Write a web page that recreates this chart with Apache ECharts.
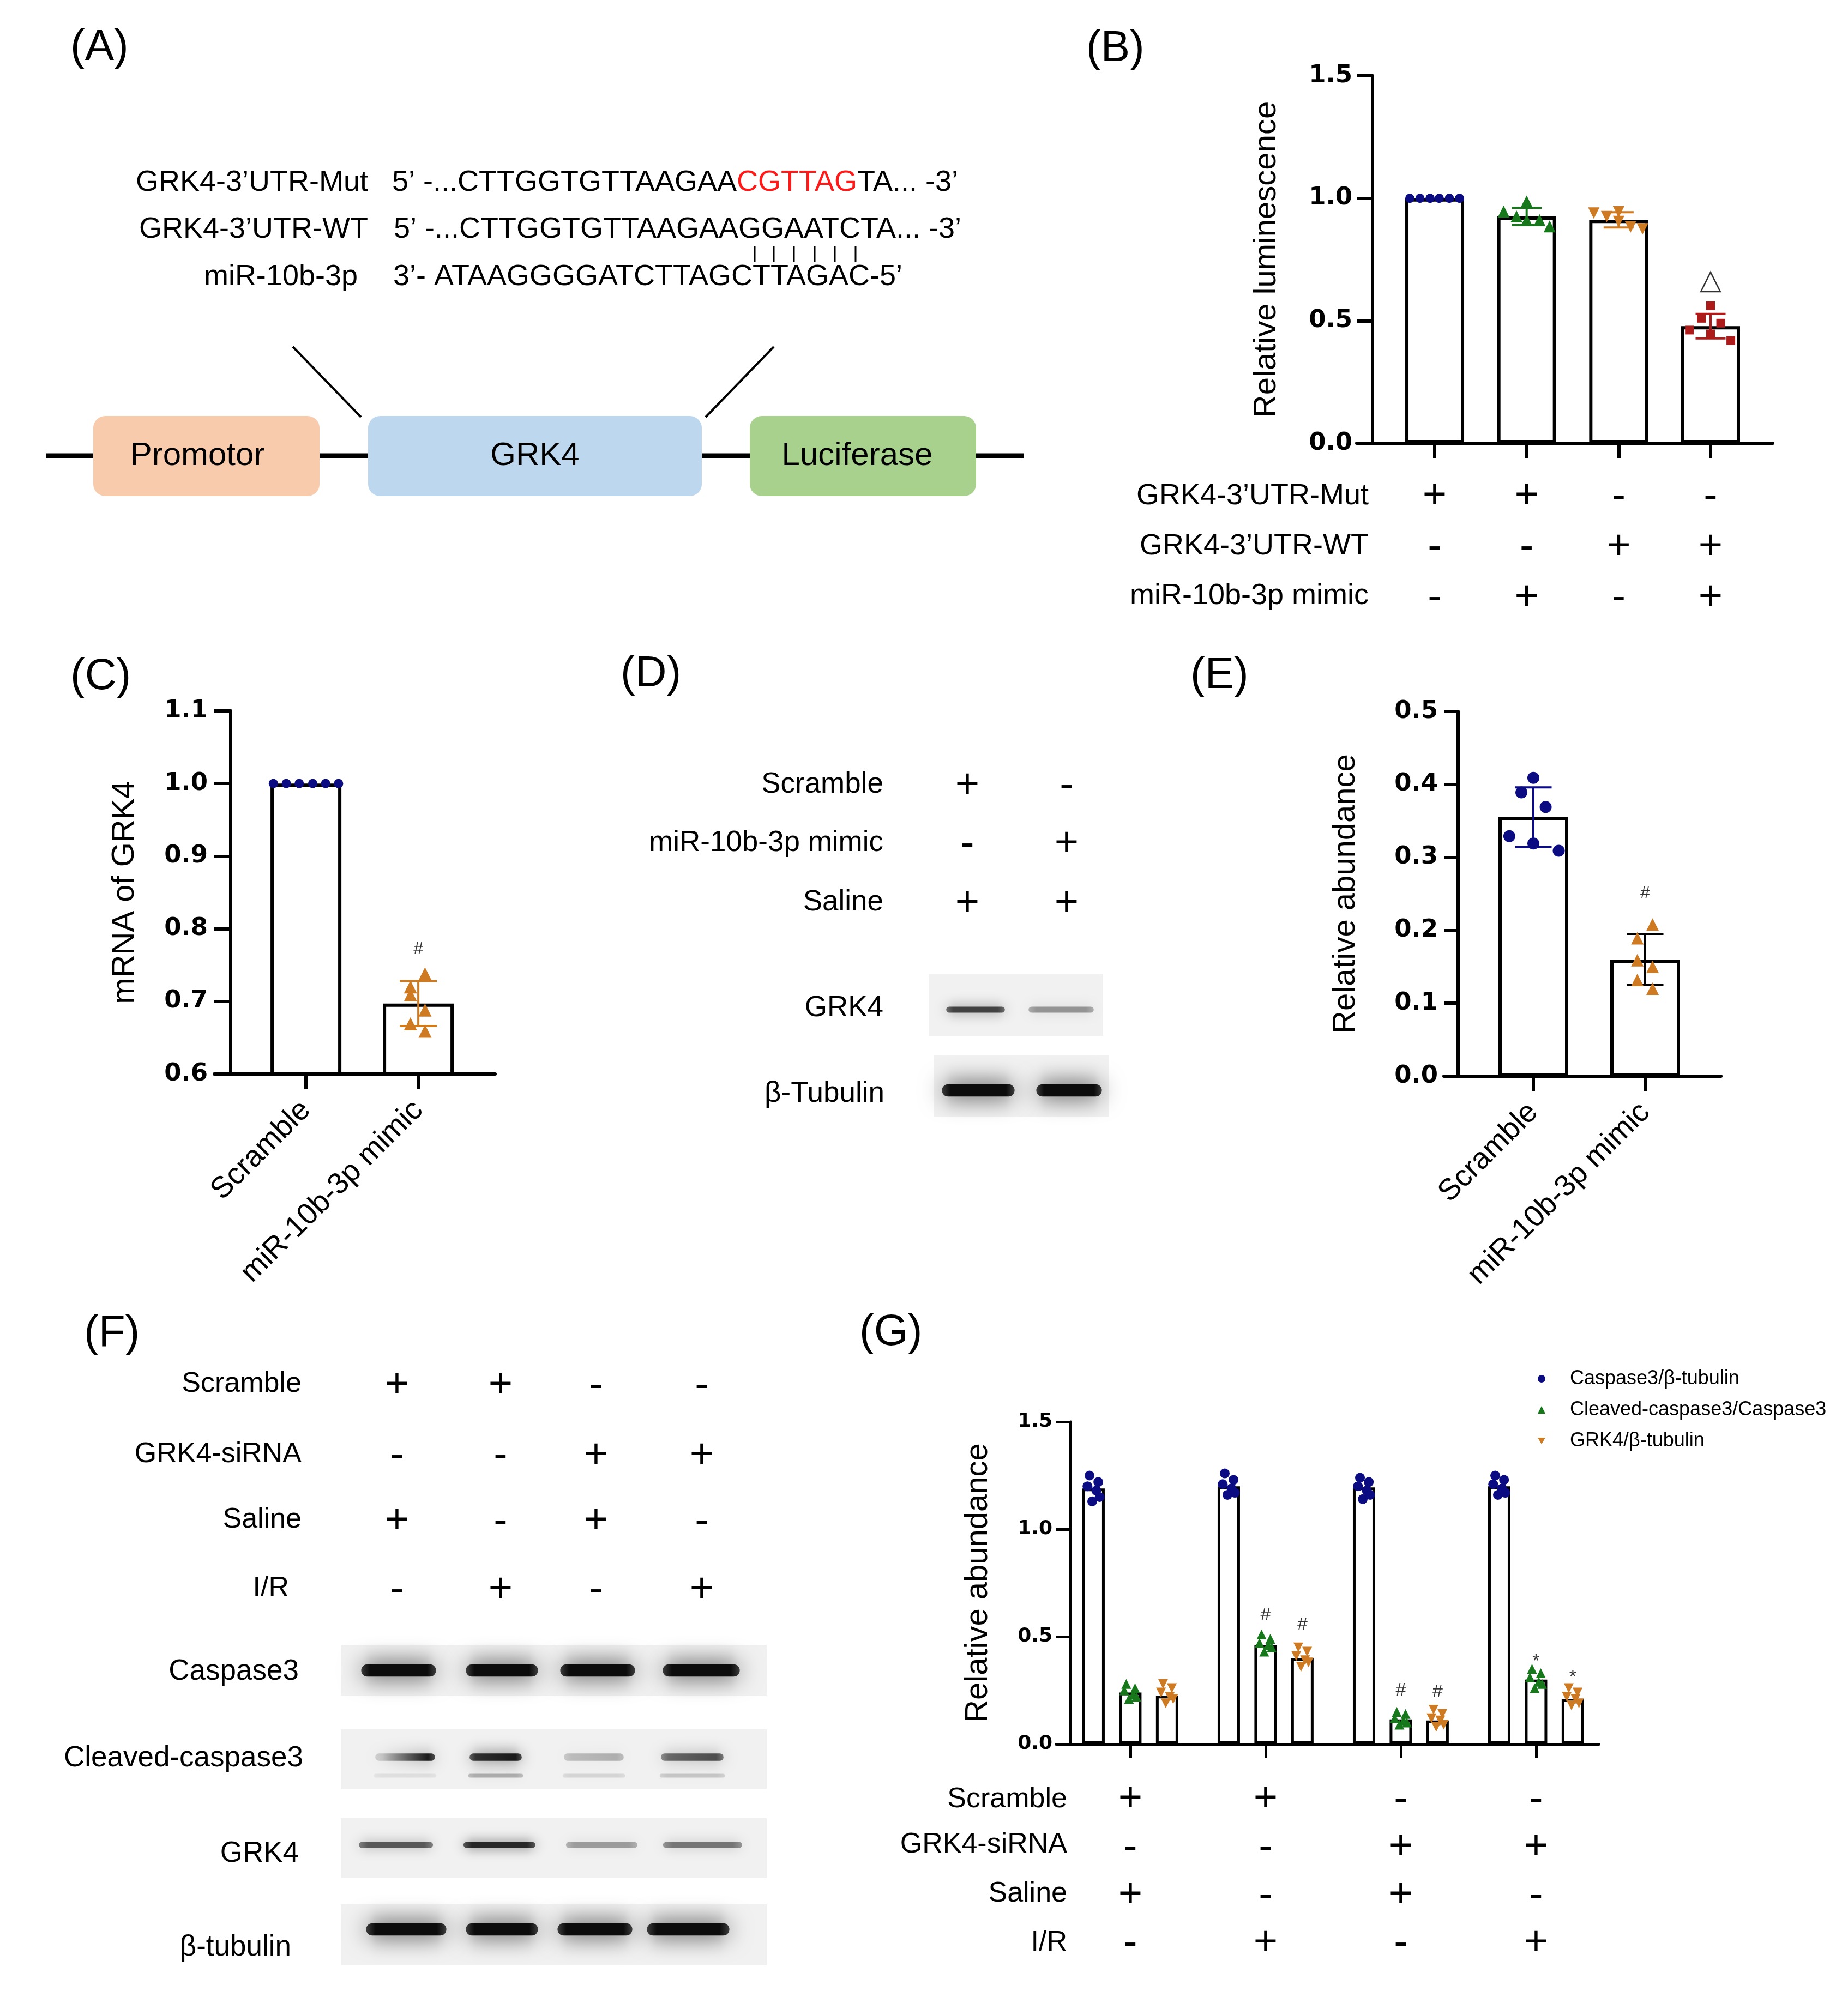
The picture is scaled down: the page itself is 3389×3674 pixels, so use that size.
<!DOCTYPE html>
<html><head><meta charset="utf-8">
<script src="https://cdn.jsdelivr.net/npm/echarts@6/dist/echarts.min.js"></script>
<style>html,body{margin:0;padding:0;background:#fff}#c{width:3389px;height:3674px}</style>
</head><body><div id="c"></div>
<script>
// ================= DATA =================
// Panel A
const seqRowLabels = ['GRK4-3\u2019UTR-Mut', 'GRK4-3\u2019UTR-WT', 'miR-10b-3p'];
const seqMutParts = ['5\u2019 -...CTTGGTGTTAAGAA', 'CGTTAG', 'TA... -3\u2019'];
const seqWT = '5\u2019 -...CTTGGTGTTAAGAAGGAATCTA... -3\u2019';
const seqMiR = '3\u2019- ATAAGGGGATCTTAGCTTAGAC-5\u2019';
const constructLabels = ['Promotor', 'GRK4', 'Luciferase'];

// Panel B
const bMeans = [1.0, 0.926, 0.912, 0.478];
const bSD = [0, 0.035, 0.031, 0.05];
const bPoints = [
  [[-0.27, 1.0], [-0.16, 1.0], [-0.05, 1.0], [0.05, 1.0], [0.16, 1.0], [0.27, 1.0]],
  [[-0.25, 0.946], [-0.11, 0.926], [0, 0.987], [0, 0.911], [0.14, 0.911], [0.25, 0.885]],
  [[-0.27, 0.94], [-0.13, 0.925], [0, 0.945], [0, 0.905], [0.13, 0.883], [0.26, 0.875]],
  [[0, 0.561], [-0.1, 0.51], [0.11, 0.49], [-0.23, 0.462], [0, 0.446], [0.22, 0.419]]
];
const bRowLabels = ['GRK4-3\u2019UTR-Mut', 'GRK4-3\u2019UTR-WT', 'miR-10b-3p mimic'];
const bSigns = [['+', '+', '-', '-'], ['-', '-', '+', '+'], ['-', '+', '-', '+']];
const bMarks = [{ text: '\u25B3', x: 3, y: 0.66 }];

// Panel C
const cCategories = ['Scramble', 'miR-10b-3p mimic'];
const cMeans = [1.0, 0.697];
const cSD = [0, 0.031];
const cPoints = [
  [[-0.29, 1.0], [-0.175, 1.0], [-0.06, 1.0], [0.06, 1.0], [0.175, 1.0], [0.29, 1.0]],
  [[0.06, 0.738], [-0.07, 0.72], [-0.07, 0.709], [0.06, 0.688], [-0.07, 0.669], [0.06, 0.659]]
];
const cMarks = [{ text: '#', x: 1, y: 0.772 }];

// Panel D
const dRowLabels = ['Scramble', 'miR-10b-3p mimic', 'Saline'];
const dSigns = [['+', '-'], ['-', '+'], ['+', '+']];
const dBlotLabels = ['GRK4', '\u03B2-Tubulin'];
const dGrk4Band = [0.72, 0.38];
const dTubulinBand = [1.0, 1.0];

// Panel E
const eCategories = ['Scramble', 'miR-10b-3p mimic'];
const eMeans = [0.355, 0.16];
const eSD = [0.041, 0.035];
const ePoints = [
  [[0, 0.409], [-0.107, 0.389], [0.11, 0.369], [-0.215, 0.329], [0, 0.319], [0.227, 0.309]],
  [[0.066, 0.208], [-0.07, 0.189], [-0.07, 0.159], [0.066, 0.15], [-0.07, 0.132], [0.066, 0.12]]
];
const eMarks = [{ text: '#', x: 1, y: 0.25 }];

// Panel F
const fRowLabels = ['Scramble', 'GRK4-siRNA', 'Saline', 'I/R'];
const fSigns = [['+', '+', '-', '-'], ['-', '-', '+', '+'], ['+', '-', '+', '-'], ['-', '+', '-', '+']];
const fBlotLabels = ['Caspase3', 'Cleaved-caspase3', 'GRK4', '\u03B2-tubulin'];
const fCaspase3Band = [1.0, 1.0, 1.0, 1.0];
const fCleavedBandLeft = [0.18, 0.8, 0.22, 0.55];
const fCleavedBandRight = [0.92, 0.92, 0.28, 0.68];
const fCleavedLowBand = [0.08, 0.28, 0.12, 0.18];
const fGrk4Band = [0.62, 0.85, 0.35, 0.5];
const fTubulinBand = [1.0, 1.0, 1.0, 1.0];

// Panel G
const gSeriesNames = ['Caspase3/\u03B2-tubulin', 'Cleaved-caspase3/Caspase3', 'GRK4/\u03B2-tubulin'];
const gCaspase3 = [1.19, 1.20, 1.195, 1.20];
const gCleaved = [0.24, 0.46, 0.115, 0.30];
const gGrk4 = [0.225, 0.40, 0.11, 0.21];
const gCaspase3Pts = [[1.25, 1.22, 1.2, 1.18, 1.15, 1.13], [1.26, 1.23, 1.21, 1.19, 1.17, 1.16], [1.24, 1.22, 1.2, 1.18, 1.16, 1.14], [1.25, 1.23, 1.21, 1.19, 1.17, 1.16]];
const gCleavedPts = [[0.28, 0.26, 0.25, 0.23, 0.22, 0.21], [0.51, 0.49, 0.47, 0.46, 0.45, 0.43], [0.15, 0.14, 0.12, 0.11, 0.1, 0.09], [0.35, 0.33, 0.31, 0.29, 0.28, 0.26]];
const gGrk4Pts = [[0.28, 0.26, 0.24, 0.22, 0.21, 0.19], [0.45, 0.43, 0.41, 0.39, 0.38, 0.36], [0.16, 0.14, 0.12, 0.11, 0.09, 0.08], [0.26, 0.24, 0.22, 0.21, 0.19, 0.18]];
const gPointJitter = [-0.03, 0.035, -0.045, 0.02, 0.045, -0.01];
const gMarks = [
  { g: 1, k: 1, text: '#', y: 0.60 }, { g: 1, k: 2, text: '#', y: 0.553 },
  { g: 2, k: 1, text: '#', y: 0.249 }, { g: 2, k: 2, text: '#', y: 0.241 },
  { g: 3, k: 1, text: '*', y: 0.385 }, { g: 3, k: 2, text: '*', y: 0.31 }
];
const gRowLabels = ['Scramble', 'GRK4-siRNA', 'Saline', 'I/R'];
const gSigns = [['+', '+', '-', '-'], ['-', '-', '+', '+'], ['+', '-', '+', '-'], ['-', '+', '-', '+']];

// ================= STYLE / LAYOUT =================
const FONT = "'Liberation Sans', Arial, Helvetica, sans-serif";
const TICK_FONT = "'DejaVu Sans', 'Liberation Sans', sans-serif";
const NAVY = '#0b0b82', GREEN = '#16781b', ORANGE = '#cd7a22', RED = '#ad1a1a';
const DOWN_TRI = 'path://M0,0L20,0L10,17.3Z';
const F = (s, w) => (w ? w + ' ' : '') + s + 'px ' + FONT;

const G = [];
function text(x, y, str, size, align, extra) {
  G.push({ type: 'text', silent: true, z: 10, style: Object.assign({ x: x, y: y, text: str, font: F(size), fill: '#000', textAlign: align || 'left', textVerticalAlign: 'middle' }, extra || {}) });
}
function line(x1, y1, x2, y2, w, z) {
  G.push({ type: 'line', silent: true, z: z == null ? 10 : z, shape: { x1: x1, y1: y1, x2: x2, y2: y2 }, style: { stroke: '#000', lineWidth: w } });
}
function rect(x, y, w, h, fill, r) {
  G.push({ type: 'rect', silent: true, z: 9, shape: { x: x, y: y, width: w, height: h, r: r || 0 }, style: { fill: fill } });
}
function band(x1, x2, yc, th, aL, aR) {
  const fill = new echarts.graphic.LinearGradient(0, 0, 1, 0, [
    { offset: 0, color: 'rgba(12,12,12,' + (aL * 0.75) + ')' },
    { offset: 0.12, color: 'rgba(12,12,12,' + aL + ')' },
    { offset: 0.88, color: 'rgba(12,12,12,' + aR + ')' },
    { offset: 1, color: 'rgba(12,12,12,' + (aR * 0.75) + ')' }]);
  G.push({ type: 'rect', silent: true, z: 11, shape: { x: x1 + th * 0.3, y: yc - th * 0.4, width: x2 - x1 - th * 0.6, height: th * 0.8, r: th * 0.4 },
    style: { fill: fill, shadowBlur: th * 1.4 + 4, shadowColor: 'rgba(12,12,12,' + ((aL + aR) / 2 * 0.9) + ')' } });
}
function blot(box, lanes, yc, th, intL, intR) {
  rect(box[0], box[1], box[2] - box[0], box[3] - box[1], '#f1f1f1', 0);
  lanes.forEach((ln, i) => band(ln[0], ln[1], yc, th, intL[i], (intR || intL)[i]));
}

// Panel letters
const panelLetters = ['(A)', '(B)', '(C)', '(D)', '(E)', '(F)', '(G)'];
const letterPos = [[129, 88], [1992, 90], [129, 1242], [1138, 1237], [2183, 1240], [154, 2447], [1576, 2445]];
panelLetters.forEach((t, i) => text(letterPos[i][0], letterPos[i][1], t, 80, 'left'));

// ---- Panel A ----
const seqY = [335, 421, 508];
const seqLabelRight = [675, 675, 656];
seqRowLabels.forEach((t, i) => text(seqLabelRight[i], seqY[i], t, 54, 'right'));
G.push({ type: 'text', silent: true, z: 10, style: { x: 719, y: seqY[0], text: '{k|' + seqMutParts[0] + '}{r|' + seqMutParts[1] + '}{k|' + seqMutParts[2] + '}',
  font: F(54), fill: '#000', textAlign: 'left', textVerticalAlign: 'middle',
  rich: { k: { fill: '#000', font: F(54) }, r: { fill: '#ff1a1a', font: F(54) } } } });
text(722, seqY[1], seqWT, 54, 'left');
text(721, seqY[2], seqMiR, 54, 'left');
[1384, 1419, 1456, 1494, 1531, 1569].forEach(x => line(x, 452, x, 481, 3));
line(537, 636, 662, 765, 4);
line(1419, 636, 1294, 765, 4);
line(84, 836, 1877, 836, 9, 5);
const boxX = [[171, 586], [675, 1287], [1375, 1790]];
const boxColors = ['#f8cbad', '#bdd7ee', '#a9d18e'];
const boxTextX = [362, 981, 1572];
boxX.forEach((b, i) => { rect(b[0], 763, b[1] - b[0], 147, boxColors[i], 22); });
constructLabels.forEach((t, i) => text(boxTextX[i], 836, t, 60, 'center'));

// ---- Panel B row titles ----
const bRowY = [910, 1002, 1093];
bRowLabels.forEach((t, i) => text(2510, bRowY[i], t, 54, 'right'));

// ---- Panel D ----
const dRowY = [1439, 1546, 1655];
const dColX = [1774, 1956];
dRowLabels.forEach((t, i) => {
  text(1620, dRowY[i], t, 53, 'right');
  dSigns[i].forEach((s, j) => text(dColX[j], dRowY[i] + 3, s, 76, 'center'));
});
text(1620, 1849, dBlotLabels[0], 53, 'right');
text(1622, 2006, dBlotLabels[1], 53, 'right');
blot([1703, 1786, 2023, 1900], [[1731, 1847], [1882, 2010]], 1852, 14, dGrk4Band);
blot([1712, 1936, 2033, 2048], [[1719, 1869], [1892, 2029]], 2000, 28, dTubulinBand);

// ---- Panel F ----
const fRowY = [2539, 2668, 2788, 2914];
const fRowRight = [553, 553, 553, 530];
const fColX = [728, 918, 1093, 1287];
fRowLabels.forEach((t, i) => {
  text(fRowRight[i], fRowY[i], t, 52, 'right');
  fSigns[i].forEach((s, j) => text(fColX[j], fRowY[i] + 3, s, 76, 'center'));
});
const fBlotY = [3066, 3225, 3400, 3572];
const fBlotRight = [548, 556, 548, 534];
fBlotLabels.forEach((t, i) => text(fBlotRight[i], fBlotY[i], t, 53, 'right'));
blot([625, 3017, 1406, 3110], [[654, 808], [846, 995], [1019, 1173], [1207, 1365]], 3064, 28, fCaspase3Band);
blot([625, 3172, 1406, 3282], [[683, 803], [856, 962], [1029, 1149], [1207, 1332]], 3223, 17, fCleavedBandLeft, fCleavedBandRight);
[[683, 803], [856, 962], [1029, 1149], [1207, 1332]].forEach((ln, i) => band(ln[0], ln[1], 3257, 9, fCleavedLowBand[i], fCleavedLowBand[i]));
blot([625, 3335, 1406, 3445], [[654, 798], [846, 986], [1034, 1173], [1212, 1365]], 3384, 13, fGrk4Band);
blot([625, 3493, 1406, 3605], [[663, 827], [846, 995], [1014, 1168], [1178, 1346]], 3539, 28, fTubulinBand);

// ---- Panel G row titles ----
const gRowY = [3301, 3384, 3474, 3564];
gRowLabels.forEach((t, i) => text(1957, gRowY[i], t, 52, 'right'));

// ================= CHART HELPERS =================
function xAxisV(gi, min, max, ticks, tickLen, lw, label) {
  return { type: 'value', gridIndex: gi, min: min, max: max,
    axisLine: { show: true, onZero: false, lineStyle: { color: '#000', width: lw } },
    axisTick: { show: true, customValues: ticks, length: tickLen, lineStyle: { color: '#000', width: lw } },
    axisLabel: Object.assign({ show: true, customValues: ticks, color: '#000', fontFamily: FONT }, label),
    splitLine: { show: false } };
}
function yAxisV(gi, min, max, interval, offset, tickLen, lw, labelSize, labelMargin, name, nameGap) {
  return { type: 'value', gridIndex: gi, min: min, max: max, interval: interval, offset: offset,
    axisLine: { show: true, onZero: false, lineStyle: { color: '#000', width: lw } },
    axisTick: { show: true, length: tickLen, lineStyle: { color: '#000', width: lw } },
    axisLabel: { formatter: v => v.toFixed(1), fontFamily: TICK_FONT, fontWeight: 'bold', fontSize: labelSize, color: '#000', margin: labelMargin },
    splitLine: { show: false },
    name: name, nameLocation: 'middle', nameGap: nameGap, nameMoveOverlap: false,
    nameTextStyle: { fontFamily: FONT, fontSize: 58, color: '#000' } };
}
function barSeries(gi, data, width, lw) {
  return { type: 'bar', xAxisIndex: gi, yAxisIndex: gi, data: data, barWidth: width, z: 2, silent: true, clip: true,
    itemStyle: { color: '#fff', borderColor: '#000', borderWidth: lw } };
}
function errorBars(gi, items, cap, lw) {
  return { type: 'custom', xAxisIndex: gi, yAxisIndex: gi, z: 3, silent: true,
    data: items.map(it => [it.x, it.m, it.s]),
    renderItem: function (params, api) {
      const it = items[params.dataIndex];
      const x = api.value(0), m = api.value(1), s = api.value(2);
      const a = api.coord([x, m + s]), b = api.coord([x, m - s]);
      const st = { stroke: it.color, lineWidth: lw };
      return { type: 'group', children: [
        { type: 'line', shape: { x1: a[0], y1: a[1], x2: b[0], y2: b[1] }, style: st },
        { type: 'line', shape: { x1: a[0] - cap / 2, y1: a[1], x2: a[0] + cap / 2, y2: a[1] }, style: st },
        { type: 'line', shape: { x1: b[0] - cap / 2, y1: b[1], x2: b[0] + cap / 2, y2: b[1] }, style: st }] };
    } };
}
function pts(gi, list, base, symbol, size, color, name) {
  return { type: 'scatter', name: name, xAxisIndex: gi, yAxisIndex: gi, z: 4, silent: true,
    symbol: symbol, symbolSize: size, itemStyle: { color: color, opacity: 1 },
    data: list.map(p => [base + p[0], p[1]]) };
}
function marks(gi, list, size, font) {
  return { type: 'scatter', xAxisIndex: gi, yAxisIndex: gi, z: 5, silent: true, symbolSize: 1,
    itemStyle: { color: 'rgba(0,0,0,0)' },
    label: { show: true, position: 'inside', formatter: '{b}', fontSize: size, fontFamily: font, color: '#000' },
    data: list.map(m => ({ name: m.text, value: [m.x, m.y] })) };
}

// ================= SERIES =================
const series = [];
// B (grid 0)
const bColors = [NAVY, GREEN, ORANGE, RED];
const bSymbols = ['circle', 'triangle', DOWN_TRI, 'rect'];
const bSizes = [17, 22, 21, 16];
series.push(barSeries(0, bMeans.map((m, i) => [i, m]), 108, 6));
series.push(errorBars(0, bMeans.map((m, i) => ({ x: i, m: m, s: bSD[i], color: bColors[i] })).filter(d => d.s > 0), 55, 4));
bPoints.forEach((p, i) => series.push(pts(0, p, i, bSymbols[i], bSizes[i], bColors[i])));
series.push(marks(0, bMarks, 52, "'DejaVu Sans', sans-serif"));
// C (grid 1)
series.push(barSeries(1, cMeans.map((m, i) => [i, m]), 130, 6));
series.push(errorBars(1, [{ x: 1, m: cMeans[1], s: cSD[1], color: ORANGE }], 68, 4));
series.push(pts(1, cPoints[0], 0, 'circle', 17, NAVY));
series.push(pts(1, cPoints[1], 1, 'triangle', 24, ORANGE));
series.push(marks(1, cMarks, 32, FONT));
// E (grid 2)
series.push(barSeries(2, eMeans.map((m, i) => [i, m]), 128, 6));
series.push(errorBars(2, [{ x: 0, m: eMeans[0], s: eSD[0], color: NAVY }, { x: 1, m: eMeans[1], s: eSD[1], color: '#000' }], 67, 4));
series.push(pts(2, ePoints[0], 0, 'circle', 22, NAVY));
series.push(pts(2, ePoints[1], 1, 'triangle', 23, ORANGE));
series.push(marks(2, eMarks, 32, FONT));
// G (grid 3)
const gOffsets = [-0.272, 0, 0.272];
const gValues = [gCaspase3, gCleaved, gGrk4];
const gPts = [gCaspase3Pts, gCleavedPts, gGrk4Pts];
const gBarData = [];
for (let g = 0; g < 4; g++) for (let k = 0; k < 3; k++) gBarData.push([g + gOffsets[k], gValues[k][g]]);
series.push(barSeries(3, gBarData, 41, 5));
const gColors = [NAVY, GREEN, ORANGE];
const gSymbols = ['circle', 'triangle', DOWN_TRI];
for (let k = 0; k < 3; k++) {
  const list = [];
  for (let g = 0; g < 4; g++) gPts[k][g].forEach((v, j) => list.push([gOffsets[k] + gPointJitter[j], v, g]));
  series.push({ type: 'scatter', name: gSeriesNames[k], xAxisIndex: 3, yAxisIndex: 3, z: 4, silent: true,
    symbol: gSymbols[k], symbolSize: 18, itemStyle: { color: gColors[k], opacity: 1 },
    data: list.map(p => [p[2] + p[0], p[1]]) });
}
series.push(marks(3, gMarks.map(m => ({ text: m.text, x: m.g + gOffsets[m.k], y: m.y })), 34, FONT));

// ================= OPTION =================
const option = {
  backgroundColor: '#fff',
  animation: false,
  grid: [
    { left: 2488, top: 139, width: 763, height: 674, outerBoundsMode: 'none', containLabel: false },
    { left: 393, top: 1304, width: 515, height: 666, outerBoundsMode: 'none', containLabel: false },
    { left: 2648, top: 1305, width: 508, height: 669, outerBoundsMode: 'none', containLabel: false },
    { left: 1937, top: 2608, width: 995, height: 591, outerBoundsMode: 'none', containLabel: false }
  ],
  xAxis: [
    xAxisV(0, -0.848, 3.676, [0, 1, 2, 3], 27, 6, { formatter: v => bSigns.map(r => r[Math.round(v)]).join('\n'), fontSize: 76, lineHeight: 93, margin: 52 }),
    xAxisV(1, -0.816, 1.684, [0, 1], 27, 6, { formatter: v => cCategories[Math.round(v)], fontSize: 55, rotate: 45, margin: 58 }),
    xAxisV(2, -0.8, 1.678, [0, 1], 27, 6, { formatter: v => eCategories[Math.round(v)], fontSize: 55, rotate: 45, margin: 58 }),
    xAxisV(3, -0.548, 3.464, [0, 1, 2, 3], 25, 5, { formatter: v => gSigns.map(r => r[Math.round(v)]).join('\n'), fontSize: 76, lineHeight: 88, margin: 58 })
  ],
  yAxis: [
    yAxisV(0, 0, 1.5, 0.5, -29, 29, 6, 45, 37, 'Relative luminescence', 165),
    yAxisV(1, 0.6, 1.1, 0.1, -30, 30, 6, 45, 42, 'mRNA of GRK4', 165),
    yAxisV(2, 0, 0.5, 0.1, -26, 26, 6, 45, 37, 'Relative abundance', 177),
    yAxisV(3, 0, 1.5, 0.5, -26, 26, 5, 36, 33, 'Relative abundance', 140)
  ],
  legend: {
    show: true, data: gSeriesNames.map(n => ({ name: n })), orient: 'vertical', left: 2815, top: 2504,
    itemWidth: 14, itemHeight: 14, itemGap: 17, selectedMode: false,
    textStyle: { fontFamily: FONT, fontSize: 36, color: '#000', lineHeight: 40, padding: [0, 0, 0, 40] }
  },
  series: series,
  graphic: { elements: G }
};

const chart = echarts.init(document.getElementById('c'), null, { renderer: 'canvas', width: 3389, height: 3674 });
chart.setOption(option);
</script></body></html>
